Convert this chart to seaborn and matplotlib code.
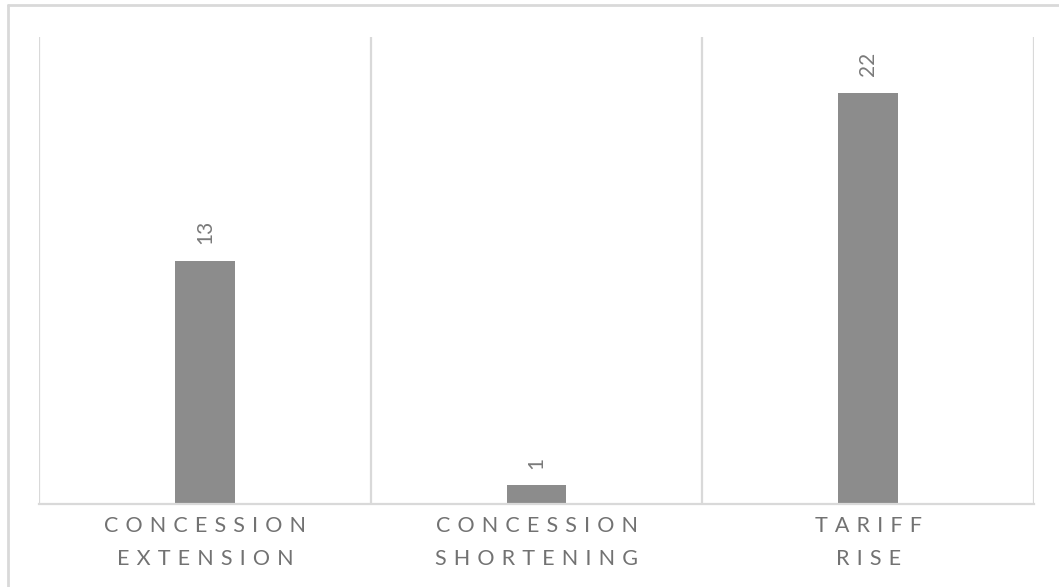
import matplotlib
matplotlib.use("Agg")
import matplotlib.pyplot as plt
from matplotlib.lines import Line2D
import seaborn as sns
import pandas as pd

categories = ["CONCESSION\nEXTENSION", "CONCESSION\nSHORTENING", "TARIFF\nRISE"]
counts = [13, 1, 22]

def spaced(label):
    # wide letter spacing for the category names (three-per-em space)
    return "\n".join("\u2004".join(line) for line in label.split("\n"))

df = pd.DataFrame({"category": categories, "count": counts})

sns.set_theme(style="white")
plt.rcParams["font.family"] = ["Lato", "DejaVu Sans"]

fig = plt.figure(figsize=(10.59, 5.87), dpi=100)
ax = fig.add_axes([39 / 1059, 1 - 504 / 587, (1034 - 39) / 1059, (504 - 37) / 587])

sns.barplot(data=df, x="category", y="count", color="#8c8c8c", saturation=1,
            width=0.18, ax=ax)
for p in ax.patches:
    p.set_edgecolor("none")

ax.set_xlim(-0.5, len(categories) - 0.5)
ax.set_ylim(0, 25)
ax.set_xlabel("")
ax.set_ylabel("")
ax.set_yticks([])

grid_color = "#d9d9d9"
for xb in [i - 0.5 for i in range(len(categories) + 1)]:
    ax.axvline(xb, color=grid_color, lw=1.6, zorder=0)

for side in ["left", "right", "top"]:
    ax.spines[side].set_visible(False)
ax.spines["bottom"].set_color(grid_color)
ax.spines["bottom"].set_linewidth(1.6)

ax.set_xticks(range(len(categories)))
ax.set_xticklabels([spaced(c) for c in categories], fontsize=15.5,
                   color="#727272", linespacing=1.8)
ax.tick_params(axis="x", length=0, pad=9)

ax.bar_label(ax.containers[0], labels=[str(v) for v in counts], rotation=90,
             padding=12, fontsize=15, color="#7a7a7a")

# outer chart frame (left and top edges)
fig.add_artist(Line2D([8 / 1059, 8 / 1059], [0, 1 - 5 / 587],
                      transform=fig.transFigure, color=grid_color, lw=2))
fig.add_artist(Line2D([8 / 1059, 1], [1 - 5 / 587, 1 - 5 / 587],
                      transform=fig.transFigure, color=grid_color, lw=2))

fig.savefig("out.png", dpi=100, facecolor="white")
